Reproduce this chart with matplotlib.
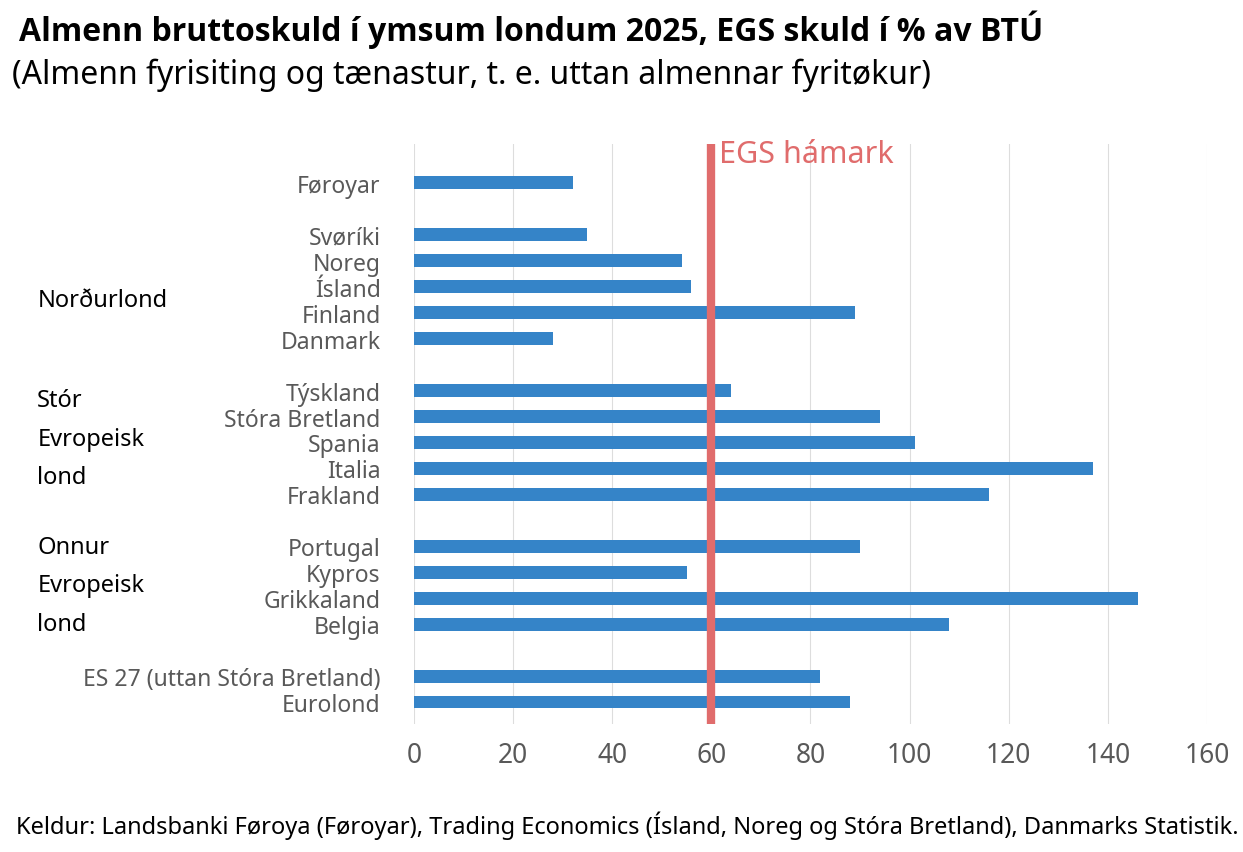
import matplotlib
matplotlib.use("Agg")
import matplotlib.pyplot as plt

countries = ["Føroyar", "Svøríki", "Noreg", "Ísland", "Finland", "Danmark",
             "Týskland", "Stóra Bretland", "Spania", "Italia", "Frakland",
             "Portugal", "Kypros", "Grikkaland", "Belgia",
             "ES 27 (uttan Stóra Bretland)", "Eurolond"]
values = [32, 35, 54, 56, 89, 28, 64, 94, 101, 137, 116, 90, 55, 146, 108, 82, 88]
rows = [0, 2, 3, 4, 5, 6, 8, 9, 10, 11, 12, 14, 15, 16, 17, 19, 20]
groups = ["Norðurlond", "Stór\nEvropeisk\nlond", "Onnur\nEvropeisk\nlond"]
group_rows = [4.5, 9.85, 15.5]
limit = 60

plt.rcParams['font.family'] = ['Noto Sans', 'DejaVu Sans']
fig = plt.figure(figsize=(12.43, 8.53), dpi=100)
ax = fig.add_axes([0.333, 0.150, 0.638, 0.680])
ax.barh(rows, values, height=0.5, color="#3584C8", zorder=2)
ax.axvline(limit, color="#E06C6C", lw=6, zorder=3)
ax.text(limit + 1.5, -1.1, "EGS hámark", color="#E06C6C", fontsize=22, va="center")
ax.set_ylim(20.85, -1.5)
ax.set_xlim(0, 160)
ax.set_xticks(range(0, 161, 20))
ax.set_yticks(rows)
ax.set_yticklabels(countries)
ax.tick_params(axis='y', length=0, labelsize=16.5, labelcolor="#595959", pad=24)
ax.tick_params(axis='x', length=0, labelsize=19, labelcolor="#595959", pad=12)
ax.grid(axis='x', color="#DDDDDD", lw=0.8, zorder=0)
for s in ax.spines.values():
    s.set_visible(False)
for g, r in zip(groups, group_rows):
    y = fig.transFigure.inverted().transform(ax.transData.transform((0, r)))[1]
    fig.text(0.030, y, g, fontsize=17, va="center", ha="left", linespacing=1.8)
fig.text(0.015, 0.965, "Almenn bruttoskuld í ymsum londum 2025, EGS skuld í % av BTÚ",
         fontsize=23, fontweight="bold", va="center",
         family=['Open Sans', 'DejaVu Sans'])
fig.text(0.010, 0.912, "(Almenn fyrisiting og tænastur, t. e. uttan almennar fyritøkur)",
         fontsize=23, va="center")
fig.text(0.013, 0.032, "Keldur: Landsbanki Føroya (Føroyar), Trading Economics (Ísland, Noreg og Stóra Bretland), Danmarks Statistik.",
         fontsize=17, va="center")
fig.savefig("out.png", dpi=100)
